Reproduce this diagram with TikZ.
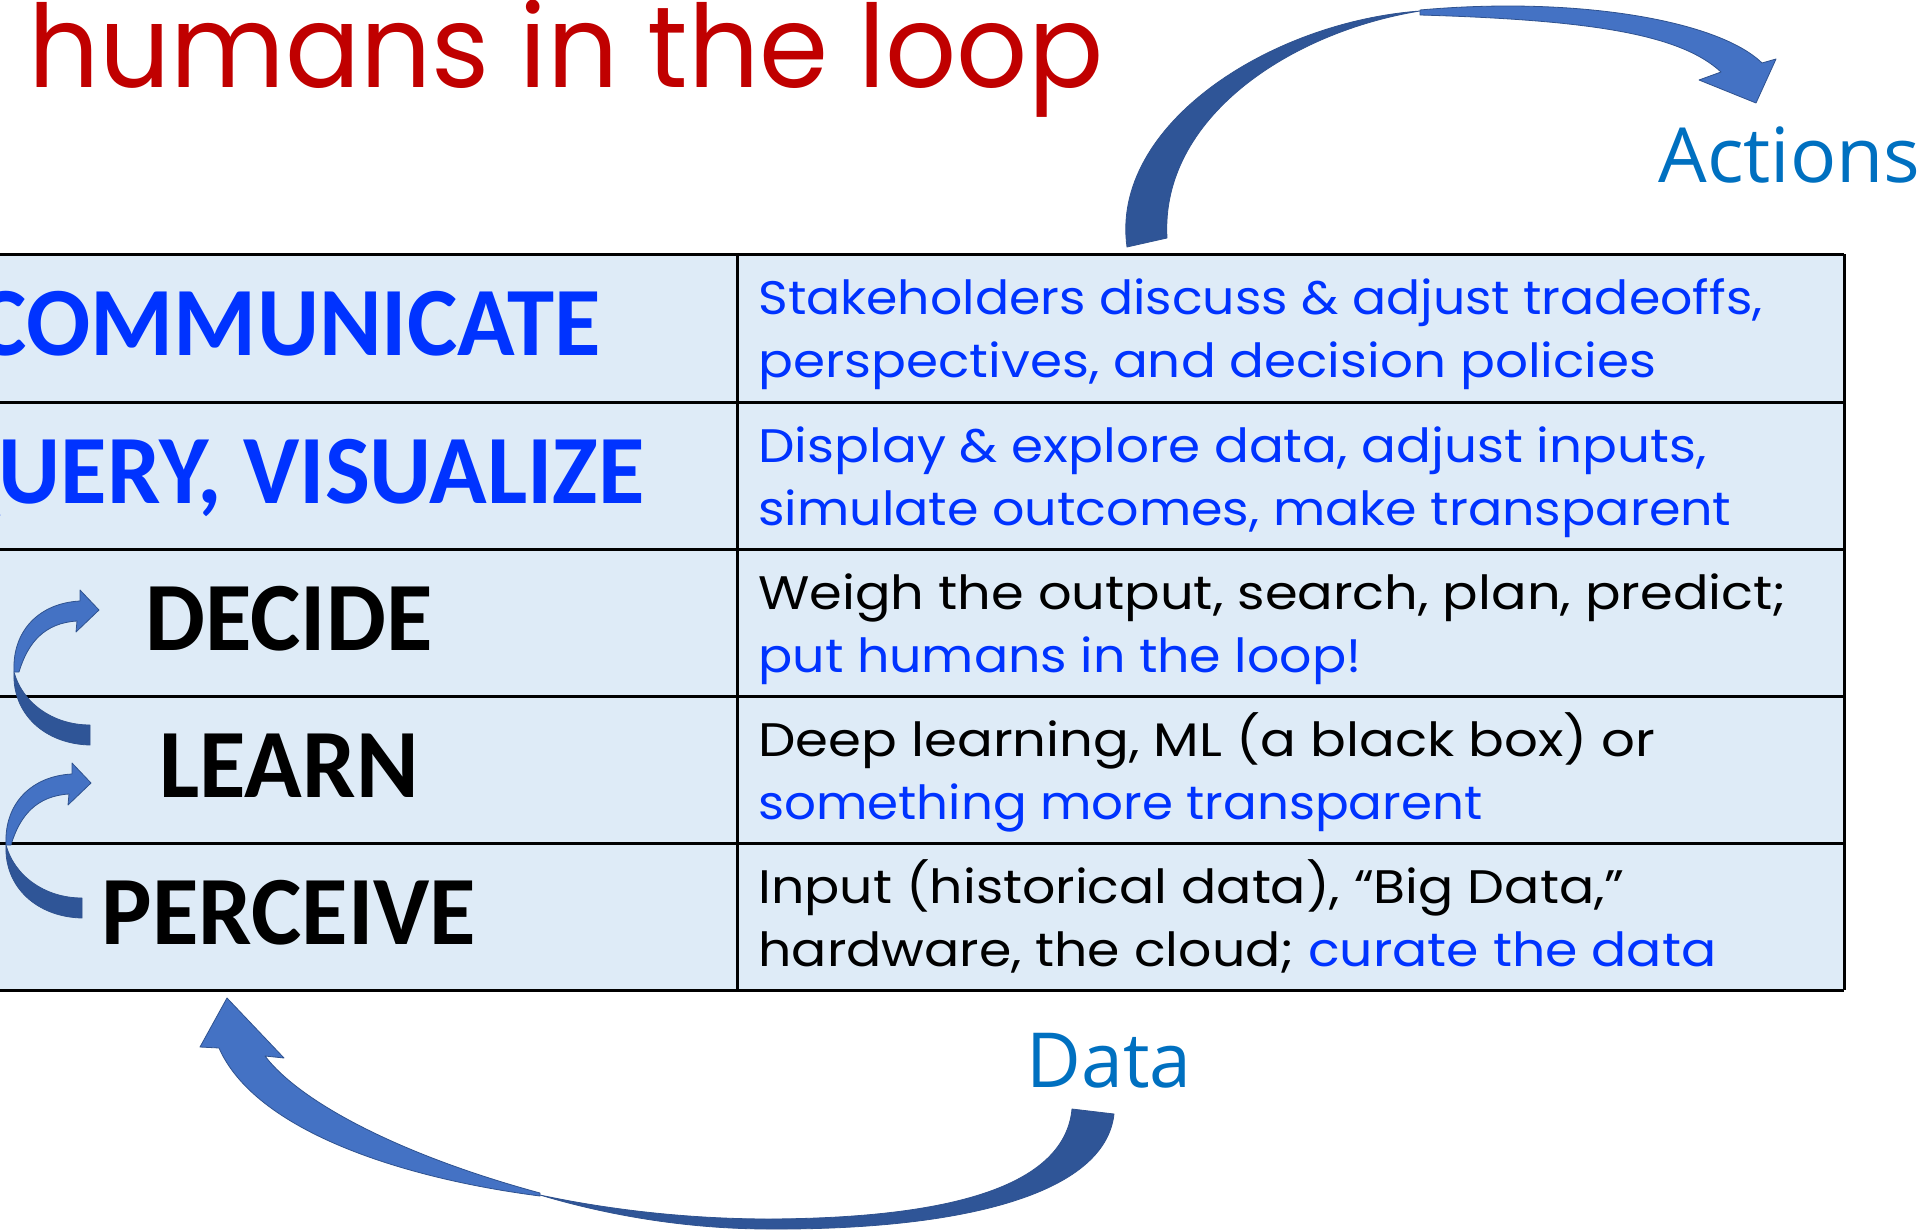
\documentclass[tikz,border=0pt]{standalone}
\usepackage{graphicx}
\usepackage{fontspec}
\setmainfont{Poppins}
\newfontfamily\hfont{Carlito}
\newfontfamily\afont{Open Sans}
\definecolor{titlered}{HTML}{C00000}
\definecolor{hblue}{HTML}{0033FF}
\definecolor{lblue}{HTML}{0070C0}
\definecolor{cellfill}{HTML}{DEEBF7}
\definecolor{arrD}{HTML}{2F5597}
\definecolor{arrL}{HTML}{4472C4}
\definecolor{arrE}{HTML}{2F528F}
\newlength\px \setlength\px{0.5pt}
\newcommand\fitw[2]{\resizebox{#1\px}{\height}{#2}}
\tikzset{
  rowline/.style={line width=1.5pt, black},
  bodytxt/.style={anchor=base west, inner sep=0pt, font=\fontsize{23.5pt}{28pt}\selectfont},
  hdr/.style={anchor=base, inner sep=0pt, font=\hfont\bfseries\fontsize{49pt}{58pt}\selectfont},
  lbl/.style={anchor=base west, inner sep=0pt, text=lblue, font=\afont\fontsize{38pt}{46pt}\selectfont},
  arrdark/.style={fill=arrD, draw=arrE, line width=0.4pt, line join=round},
  arrlight/.style={fill=arrL, draw=arrE, line width=0.4pt, line join=round},
  smallarr/.pic={
    \path[arrdark] (90,745) .. controls (45,744) and (12,714) .. (14,672)
       .. controls (22,702) and (52,725) .. (90,725) -- cycle;
    \path[arrlight] (14,672) .. controls (12,630) and (40,603) .. (80,601)
       -- (80,590) -- (99,610) -- (76,632) -- (77,621)
       .. controls (45,623) and (28,642) .. (19,672) -- cycle;
  }
}
\begin{document}
\begin{tikzpicture}[x=0.5pt, y=-0.5pt]
\useasboundingbox (0,0) rectangle (1929,1231);
\clip (0,0) rectangle (1929,1231);
\fill[white] (0,0) rectangle (1929,1231);

% title
\node[anchor=base west, inner sep=0pt, text=titlered, font=\fontsize{57.5pt}{68pt}\selectfont] (title) at (28,87) {\fitw{1075}{humans in the loop}};

% table
\fill[cellfill] (-10,254) rectangle (1844,990);
\foreach \yy in {254,402,549,696,843,990} \draw[rowline] (-10,\yy) -- (1844,\yy);
\draw[rowline] (737,254) -- (737,990);
\draw[rowline] (1844,254) -- (1844,990);

% headers
\node[hdr, text=hblue] (h1) at (289,355) {\scalebox{0.97}[1]{COMMUNICATE}};
\node[hdr, text=hblue] (h2) at (289,503) {\scalebox{0.97}[1]{QUERY, VISUALIZE}};
\node[hdr] (h3) at (289,650) {\scalebox{0.97}[1]{DECIDE}};
\node[hdr] (h4) at (289,797) {\scalebox{0.97}[1]{LEARN}};
\node[hdr] (h5) at (289,944) {\scalebox{0.97}[1]{PERCEIVE}};

% descriptions
\node[bodytxt, text=hblue] (t1a) at (758,314) {\fitw{1004}{Stakeholders discuss \& adjust tradeoffs,}};
\node[bodytxt, text=hblue] (t1b) at (758,377) {\fitw{898}{perspectives, and decision policies}};
\node[bodytxt, text=hblue] (t2a) at (758,462) {\fitw{948}{Display \& explore data, adjust inputs,}};
\node[bodytxt, text=hblue] (t2b) at (758,525) {\fitw{973}{simulate outcomes, make transparent}};
\node[bodytxt] (t3a) at (758,609) {\fitw{1028}{Weigh the output, search, plan, predict;}};
\node[bodytxt, text=hblue] (t3b) at (758,672) {\fitw{603}{put humans in the loop!}};
\node[bodytxt] (t4a) at (758,756) {\fitw{897}{Deep learning, ML (a black box) or}};
\node[bodytxt, text=hblue] (t4b) at (758,819) {\fitw{724}{something more transparent}};
\node[bodytxt] (t5a) at (758,903) {\fitw{866}{Input (historical data), “Big Data,”}};
\node[bodytxt] (t5b) at (758,966) {\fitw{958}{hardware, the cloud; \textcolor{hblue}{curate the data}}};

% labels
\node[lbl] (actions) at (1658,182) {\fitw{262}{Actions}};
\node[lbl] (data) at (1026,1087) {\fitw{165}{Data}};

% small curved arrows
\pic at (0,0) {smallarr};
\pic at (-8,173) {smallarr};

% top curved arrow (to Actions)
\path[arrdark] (1127,247) .. controls (1110,125) and (1270,22) .. (1420,11)
   .. controls (1290,32) and (1160,118) .. (1167,238) -- cycle;
\path[arrlight] (1420,10) .. controls (1575,-4) and (1718,20) .. (1762,63)
   -- (1776,59) -- (1756,103) -- (1699,80) -- (1721,72)
   .. controls (1680,34) and (1590,20) .. (1420,15) -- cycle;

% bottom curved arrow (from Data)
\path[arrdark] (540,1195) .. controls (600,1213) and (680,1229) .. (770,1229)
   .. controls (960,1230) and (1105,1195) .. (1114,1114) -- (1072,1109)
   .. controls (1065,1183) and (960,1218) .. (770,1219)
   .. controls (690,1219) and (610,1210) .. (540,1195) -- cycle;
\path[arrlight] (540,1196) .. controls (400,1178) and (255,1130) .. (219,1048)
   -- (200,1047) -- (227,998) -- (284,1058) -- (265,1056)
   .. controls (300,1102) and (400,1155) .. (540,1193) -- cycle;
\end{tikzpicture}
\end{document}
